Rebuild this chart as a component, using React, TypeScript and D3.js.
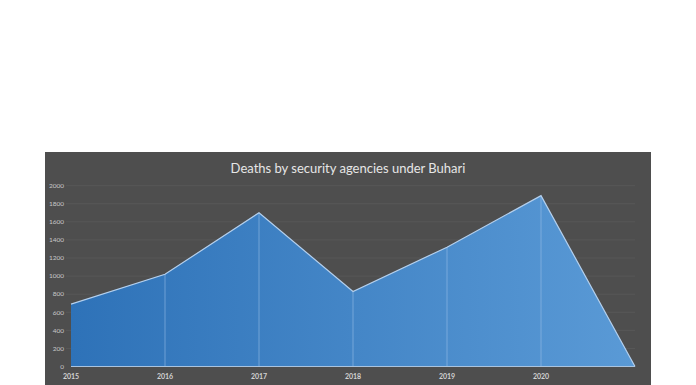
import React from 'react';
import * as d3 from 'd3';

// data
const years = ['2015', '2016', '2017', '2018', '2019', '2020', ''];
const deaths = [690, 1020, 1700, 830, 1320, 1890, 0];
const yTicks = [0, 200, 400, 600, 800, 1000, 1200, 1400, 1600, 1800, 2000];
const title = 'Deaths by security agencies under Buhari';

const App = () => {
    const W = 696;
    const H = 385;
    const panel = { x: 45, y: 152, w: 606, h: 240 };

    const xScale = d3.scalePoint<string>()
        .domain(years.map((y, i) => `${i}`))
        .range([71, 635]);
    const yScale = d3.scaleLinear().domain([0, 2000]).range([366.5, 185.7]);

    const pts = deaths.map((d, i) => ({ x: xScale(`${i}`) as number, v: d }));

    const area = d3.area<{ x: number, v: number }>()
        .x(d => d.x)
        .y0(yScale(0))
        .y1(d => yScale(d.v))
        .curve(d3.curveLinear);
    const line = d3.line<{ x: number, v: number }>()
        .x(d => d.x)
        .y(d => yScale(d.v));

    return (
        <svg width={W} height={H} style={{ position: 'absolute', left: 0, top: 0, display: 'block' }}>
            <defs>
                <linearGradient id="area-grad" x1="71" x2="635" y1="0" y2="0" gradientUnits="userSpaceOnUse">
                    <stop offset="0%" stopColor="#2e72b8" />
                    <stop offset="100%" stopColor="#5a9ad6" />
                </linearGradient>
            </defs>
            <rect x={0} y={0} width={W} height={H} fill="#ffffff" />
            <rect x={panel.x} y={panel.y} width={panel.w} height={panel.h} fill="#4e4e4e" />

            {/* gridlines */}
            {yTicks.filter(t => t > 0).map(t => (
                <line key={t} x1={66} x2={635} y1={yScale(t)} y2={yScale(t)} stroke="#585858" strokeWidth={1} />
            ))}

            <path d={area(pts) || ''} fill="url(#area-grad)" />

            {/* drop lines */}
            {pts.slice(1, -1).map((p, i) => (
                <line key={i} x1={p.x} x2={p.x} y1={yScale(p.v)} y2={yScale(0)} stroke="#9cc2ea" strokeOpacity={0.55} strokeWidth={1} />
            ))}

            <path d={line(pts) || ''} fill="none" stroke="#b4d0ee" strokeWidth={1.2} />
            <line x1={71} x2={635} y1={yScale(0)} y2={yScale(0)} stroke="#a9c4e0" strokeWidth={1.2} />

            {/* y axis labels */}
            {yTicks.map(t => (
                <text key={t} x={64} y={yScale(t)} dy="0.35em" textAnchor="end" fontSize={6.5}
                    fontFamily="Lato, 'Open Sans', sans-serif" fill="#c8c8c8">{t}</text>
            ))}

            {/* x axis labels */}
            {years.map((y, i) => (
                <text key={i} x={xScale(`${i}`)} y={379} textAnchor="middle" fontSize={7} fontWeight="bold"
                    fontFamily="Lato, 'Open Sans', sans-serif" fill="#d2d2d2">{y}</text>
            ))}

            <text x={348} y={172.5} textAnchor="middle" fontSize={13}
                fontFamily="Lato, 'Open Sans', sans-serif" fill="#e6e6e6">{title}</text>
        </svg>
    );
};

export default App;
